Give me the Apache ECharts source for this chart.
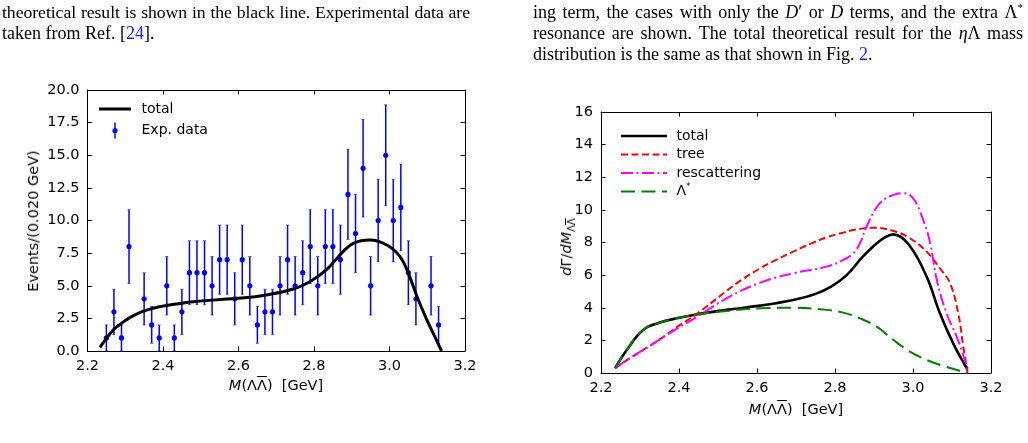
<!DOCTYPE html>
<html>
<head>
<meta charset="utf-8">
<script src="https://cdn.jsdelivr.net/npm/echarts@6/dist/echarts.min.js"></script>
<style>
  body { margin: 0; width: 1028px; height: 443px; overflow: hidden; background: #fff; position: relative; }
  #chart { position: absolute; left: 0; top: 0; width: 1028px; height: 443px; }
  .ln { position: absolute; font-family: "Liberation Serif", serif; font-size: 18px; line-height: 21px; color: #000; white-space: nowrap; }
  .j { text-align: justify; text-align-last: justify; }
  .lk { color: #1a1aff; }
  .ax { position: absolute; font-family: "DejaVu Sans", sans-serif; font-size: 14.5px; color: #000; white-space: nowrap; transform: translate(-50%, -50%); line-height: 18px; }
  .rot { transform: translate(-50%, -50%) rotate(-90deg); }
  .ob { text-decoration: overline; text-decoration-thickness: 1.2px; }
</style>
</head>
<body>
<div id="chart"></div>
<div class="ln j" style="left:2px;top:2px;width:468px;font-size:17.7px;letter-spacing:-0.05px">theoretical result is shown in the black line.  Experimental data are</div>
<div class="ln" style="left:2px;top:23px">taken from Ref. [<span class="lk">24</span>].</div>
<div class="ln j" style="left:533px;top:2px;width:490px">ing term, the cases with only the <i>D</i>′ or <i>D</i> terms, and the extra Λ<sup style="font-size:11px;line-height:0">*</sup></div>
<div class="ln j" style="left:533px;top:23px;width:490px">resonance are shown.  The total theoretical result for the <i>η</i>Λ mass</div>
<div class="ln" style="left:533px;top:44px">distribution is the same as that shown in Fig. <span class="lk">2</span>.</div>

<div class="ax" style="left:276px;top:385px"><i>M</i>(Λ<span class="ob">Λ</span>)&nbsp;&nbsp;[GeV]</div>
<div class="ax" style="left:796px;top:409px"><i>M</i>(Λ<span class="ob">Λ</span>)&nbsp;&nbsp;[GeV]</div>
<div class="ax rot" style="left:33px;top:221px">Events/(0.020 GeV)</div>
<div class="ax rot" style="left:566px;top:247px"><i>d</i>Γ/<i>dM</i><sub style="font-size:10px;line-height:0">Λ<span class="ob" style="text-decoration-thickness:1px">Λ</span></sub></div>
<script>
// experimental data (left panel)
const expMass = [2.25, 2.27, 2.29, 2.31, 2.35, 2.37, 2.39, 2.41, 2.43, 2.45, 2.47, 2.49, 2.51, 2.53, 2.55, 2.57, 2.59, 2.61, 2.63, 2.65, 2.67, 2.69, 2.71, 2.73, 2.75, 2.77, 2.79, 2.81, 2.83, 2.85, 2.87, 2.89, 2.91, 2.93, 2.95, 2.97, 2.99, 3.01, 3.03, 3.05, 3.07, 3.11, 3.13];
const expEvents = [1, 3, 1, 8, 4, 2, 1, 5, 1, 3, 6, 6, 6, 5, 7, 7, 4, 7, 5, 2, 3, 3, 5, 7, 5, 6, 8, 5, 8, 8, 7, 12, 9, 14, 5, 10, 15, 10, 11, 6, 4, 5, 2];
const expErr = [1, 1.73, 1, 2.83, 2, 1.41, 1, 2.24, 1, 1.73, 2.45, 2.45, 2.45, 2.24, 2.65, 2.65, 2, 2.65, 2.24, 1.41, 1.73, 1.73, 2.24, 2.65, 2.24, 2.45, 2.83, 2.24, 2.83, 2.83, 2.65, 3.46, 3, 3.74, 2.24, 3.16, 3.87, 3.16, 3.32, 2.45, 2, 2.24, 1.41];

// total theory curve, left panel
const totalLMass = [2.233, 2.268, 2.29, 2.313, 2.348, 2.392, 2.436, 2.48, 2.569, 2.657, 2.745, 2.789, 2.834, 2.877, 2.904, 2.948, 2.993, 3.028, 3.05, 3.073, 3.099, 3.12, 3.138];
const totalLRate = [0.28, 1.61, 2.12, 2.58, 3.06, 3.4, 3.6, 3.78, 3.98, 4.21, 4.75, 5.31, 6.26, 7.61, 8.25, 8.5, 8.12, 7.23, 5.95, 4.16, 2.38, 1.1, 0];

// right panel curves
const totalRMass = [2.236, 2.266, 2.308, 2.351, 2.394, 2.437, 2.522, 2.608, 2.693, 2.75, 2.79, 2.83, 2.87, 2.907, 2.93, 2.95, 2.99, 3.035, 3.069, 3.103, 3.133, 3.14];
const totalRRate = [0.29, 1.41, 2.64, 3.09, 3.35, 3.56, 3.87, 4.13, 4.48, 4.85, 5.3, 6.0, 7.1, 7.95, 8.35, 8.5, 7.85, 5.91, 3.66, 1.82, 0.49, 0.25];

const treeMass = [2.236, 2.27, 2.308, 2.35, 2.394, 2.45, 2.52, 2.56, 2.608, 2.65, 2.693, 2.74, 2.779, 2.82, 2.85, 2.898, 2.95, 2.992, 3.035, 3.069, 3.095, 3.116, 3.129, 3.14];
const treeRate = [0.29, 0.85, 1.41, 2.05, 2.8, 3.7, 5.0, 5.7, 6.42, 6.95, 7.44, 7.95, 8.32, 8.6, 8.78, 8.91, 8.71, 8.26, 7.44, 6.42, 5.5, 3.66, 1.61, 0];

const rescMass = [2.236, 2.27, 2.308, 2.35, 2.394, 2.45, 2.522, 2.608, 2.693, 2.779, 2.821, 2.847, 2.865, 2.881, 2.915, 2.95, 2.975, 3.0, 3.026, 3.044, 3.061, 3.086, 3.112, 3.133, 3.14];
const rescRate = [0.29, 0.85, 1.41, 2.05, 2.7, 3.5, 4.58, 5.54, 6.11, 6.52, 6.93, 7.34, 8.0, 8.98, 10.41, 10.92, 11.02, 10.72, 9.39, 7.96, 5.71, 3.66, 2.23, 0.8, 0.3];

const lstarMass = [2.236, 2.266, 2.308, 2.351, 2.394, 2.437, 2.522, 2.608, 2.693, 2.779, 2.821, 2.864, 2.907, 2.95, 2.992, 3.035, 3.078, 3.133, 3.14];
const lstarRate = [0.29, 1.41, 2.64, 3.09, 3.35, 3.56, 3.8, 3.97, 4.0, 3.87, 3.7, 3.35, 2.84, 2.02, 1.31, 0.8, 0.43, 0.04, 0];

const massTicks = { min: 2.2, max: 3.2, interval: 0.2 };
const eventTicks = { min: 0, max: 20, interval: 2.5 };
const rateTicks = { min: 0, max: 16, interval: 2 };

const pairs = (xs, ys) => xs.map((x, i) => [x, ys[i]]);

const FONT = "DejaVu Sans";
const BLUE = "#0000ff";

const axisBase = (gridIndex, ticks, position, labelFmt) => ({
  type: "value",
  gridIndex: gridIndex,
  position: position,
  min: ticks.min,
  max: ticks.max,
  interval: ticks.interval,
  splitLine: { show: false },
  axisLine: { show: true, onZero: false, lineStyle: { color: "#000", width: 1 } },
  axisTick: { show: true, inside: true, length: 4.5, lineStyle: { color: "#000", width: 1 } },
  axisLabel: labelFmt
    ? { show: true, formatter: labelFmt, color: "#000", fontFamily: FONT, fontSize: 14.5, margin: 8 }
    : { show: false },
});

const xAxes = [
  axisBase(0, massTicks, "bottom", (v) => v.toFixed(1)),
  axisBase(0, massTicks, "top", null),
  axisBase(1, massTicks, "bottom", (v) => v.toFixed(1)),
  axisBase(1, massTicks, "top", null),
];

const yAxes = [
  axisBase(0, eventTicks, "left", (v) => v.toFixed(1)),
  axisBase(0, eventTicks, "right", null),
  axisBase(1, rateTicks, "left", (v) => String(v)),
  axisBase(1, rateTicks, "right", null),
];

const chart = echarts.init(document.getElementById("chart"), null, { renderer: "canvas" });

const errorBars = (params, api) => {
  const x = api.value(0), y = api.value(1), e = api.value(2);
  const c = api.coord([x, y]);
  const t = api.coord([x, y + e]);
  const b = api.coord([x, Math.max(0, y - e)]);
  const st = { stroke: BLUE, lineWidth: 1.5 };
  return {
    type: "group",
    children: [
      { type: "line", shape: { x1: c[0], y1: t[1], x2: c[0], y2: b[1] }, style: st },
      { type: "line", shape: { x1: c[0] - 1.5, y1: t[1], x2: c[0] + 1.5, y2: t[1] }, style: { stroke: BLUE, lineWidth: 1, opacity: 0.6 } },
      { type: "line", shape: { x1: c[0] - 1.5, y1: b[1], x2: c[0] + 1.5, y2: b[1] }, style: { stroke: BLUE, lineWidth: 1, opacity: 0.6 } },
      { type: "circle", shape: { cx: c[0], cy: c[1], r: 2.6 }, style: { fill: BLUE } },
    ],
  };
};

const curve = (xi, yi, xs, ys, color, width, dash, z) => ({
  type: "line",
  xAxisIndex: xi,
  yAxisIndex: yi,
  data: pairs(xs, ys),
  smooth: 0.4,
  showSymbol: false,
  symbol: "none",
  z: z,
  lineStyle: { color: color, width: width, type: dash },
  silent: true,
});

// legend lines (matplotlib style, in-axes)
const legLine = (x1, x2, y, color, width, dash) => ({
  type: "line",
  shape: { x1: x1, y1: y, x2: x2, y2: y },
  style: { stroke: color, lineWidth: width, lineDash: dash },
});
const legText = (x, y, text, rich) => ({
  type: "text",
  x: x, y: y,
  style: { text: text, font: "14px 'DejaVu Sans'", fill: "#000", verticalAlign: "middle", align: "left", rich: rich },
});

const rightRows = [136, 154.5, 173, 191.5];

chart.setOption({
  animation: false,
  backgroundColor: "transparent",
  grid: [
    { left: 87.5, top: 90, width: 377.5, height: 261 },
    { left: 601, top: 112, width: 390, height: 261 },
  ],
  xAxis: xAxes,
  yAxis: yAxes,
  series: [
    curve(0, 0, totalLMass, totalLRate, "#000", 3, "solid", 5),
    {
      type: "custom",
      xAxisIndex: 0,
      yAxisIndex: 0,
      renderItem: errorBars,
      data: expMass.map((m, i) => [m, expEvents[i], expErr[i]]),
      z: 4,
      silent: true,
    },
    curve(2, 2, totalRMass, totalRRate, "#000", 2.6, "solid", 2),
    curve(2, 2, treeMass, treeRate, "#ff0000", 2, [7, 3.5], 3),
    curve(2, 2, rescMass, rescRate, "#ff00ff", 2, [12, 3.5, 2, 3.5], 4),
    curve(2, 2, lstarMass, lstarRate, "#008000", 2, [14, 6.5], 5),
  ],
  graphic: [
    legLine(99, 131, 109, "#000", 3, null),
    legText(141.5, 109, "total"),
    { type: "line", shape: { x1: 115, y1: 122.5, x2: 115, y2: 138.5 }, style: { stroke: BLUE, lineWidth: 1.5 } },
    { type: "circle", shape: { cx: 115, cy: 130.5, r: 2.6 }, style: { fill: BLUE } },
    legText(141.5, 130.5, "Exp. data"),

    legLine(621, 667, rightRows[0], "#000", 2.6, null),
    legText(676.5, rightRows[0], "total"),
    legLine(621, 667, rightRows[1], "#ff0000", 2, [7, 3.5]),
    legText(676.5, rightRows[1], "tree"),
    legLine(621, 667, rightRows[2], "#ff00ff", 2, [12, 3.5, 2, 3.5]),
    legText(676.5, rightRows[2], "rescattering"),
    legLine(621, 667, rightRows[3], "#008000", 2, [14, 6.5]),
    legText(676.5, rightRows[3], "Λ{sup|*}", {
      sup: { fontFamily: FONT, fontSize: 9, fill: "#000", padding: [0, 0, 9, 0] },
    }),
  ],
});
</script>
</body>
</html>
